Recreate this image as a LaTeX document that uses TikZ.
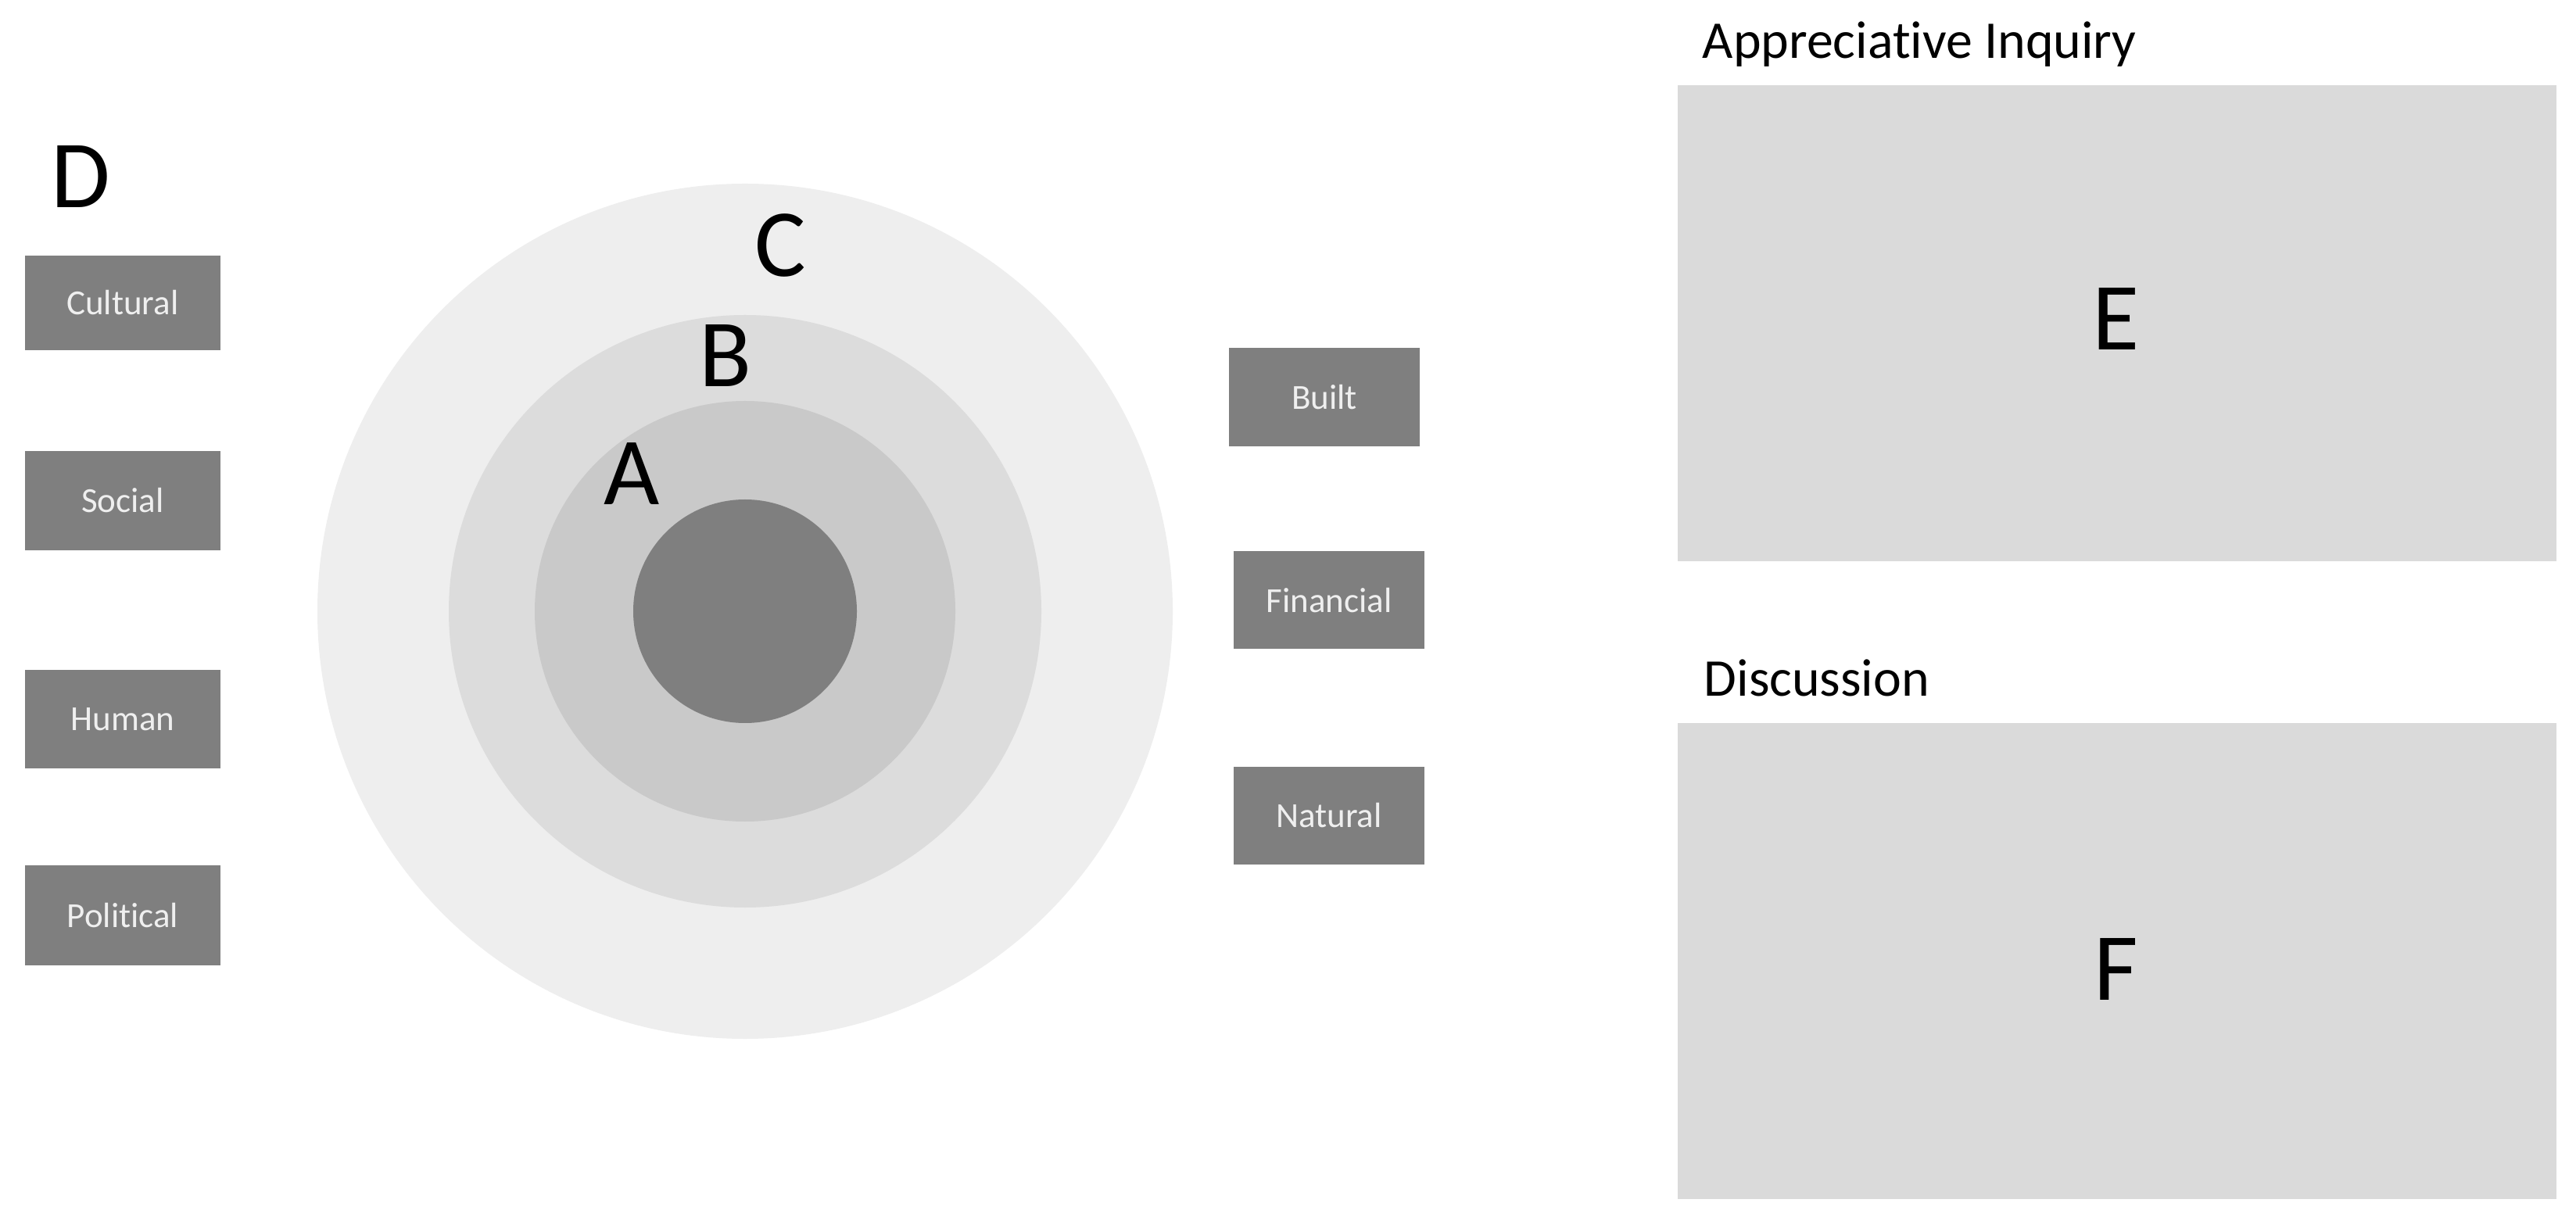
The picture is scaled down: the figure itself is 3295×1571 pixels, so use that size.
\documentclass[tikz,border=0pt]{standalone}
\usepackage{fontspec}
\setmainfont[Ligatures={NoCommon}]{Carlito}
\definecolor{boxgray}{HTML}{7F7F7F}
\definecolor{ringC}{HTML}{EEEEEE}
\definecolor{ringB}{HTML}{DCDCDC}
\definecolor{ringA}{HTML}{C9C9C9}
\definecolor{core}{HTML}{7F7F7F}
\definecolor{panel}{HTML}{DADADA}
\definecolor{labeltext}{HTML}{EFEFEF}
\tikzset{
  capbox/.style={fill=boxgray, draw=none, inner sep=0pt, text=labeltext,
    font=\fontsize{12.8pt}{14pt}\selectfont},
  bigletter/.style={inner sep=0pt, text=black, font=\fontsize{35pt}{40pt}\selectfont},
  paneltitle/.style={inner sep=0pt, anchor=base west, text=black, font=\fontsize{19.3pt}{22pt}\selectfont},
  panelbox/.style={fill=panel, draw=none},
  ring/.style={draw=none}
}
\begin{document}
\begin{tikzpicture}[x=0.01cm, y=-0.01cm]
\useasboundingbox (0,0) rectangle (3295,1571);
\fill[white] (0,0) rectangle (3295,1571);

% concentric circles
\coordinate (ctr) at (953,782);
\fill[ringC] (ctr) circle (547);
\fill[ringB] (ctr) circle (379);
\fill[ringA] (ctr) circle (269);
\fill[core] (ctr) circle (143);

% left capital boxes
\node[capbox, minimum width=250*0.01cm, minimum height=121*0.01cm] (cultural) at (157,387.5) {Cultural};
\node[capbox, minimum width=250*0.01cm, minimum height=127*0.01cm] (social) at (157,640.5) {Social};
\node[capbox, minimum width=250*0.01cm, minimum height=126*0.01cm] (human) at (157,920) {Human};
\node[capbox, minimum width=250*0.01cm, minimum height=128*0.01cm] (political) at (157,1171) {Political};

% right capital boxes
\node[capbox, minimum width=244*0.01cm, minimum height=126*0.01cm] (built) at (1694,508) {Built};
\node[capbox, minimum width=244*0.01cm, minimum height=125*0.01cm] (financial) at (1700,768) {Financial};
\node[capbox, minimum width=244*0.01cm, minimum height=125*0.01cm] (natural) at (1700,1043) {Natural};

% letters
\node[bigletter] (D) at (103,226) {D};
\node[bigletter] (C) at (998,314) {C};
\node[bigletter] (B) at (928,455) {B};
\node[bigletter] (A) at (808,606) {A};

% right panels
\node[paneltitle] (aititle) at (2177,75) {Appreciative Inquiry};
\fill[panelbox] (2146,109) rectangle (3270,718);
\node[bigletter] (E) at (2706,408) {E};

\node[paneltitle] (disctitle) at (2179,891) {Discussion};
\fill[panelbox] (2146,925) rectangle (3270,1534);
\node[bigletter] (F) at (2707,1240) {F};
\end{tikzpicture}
\end{document}
